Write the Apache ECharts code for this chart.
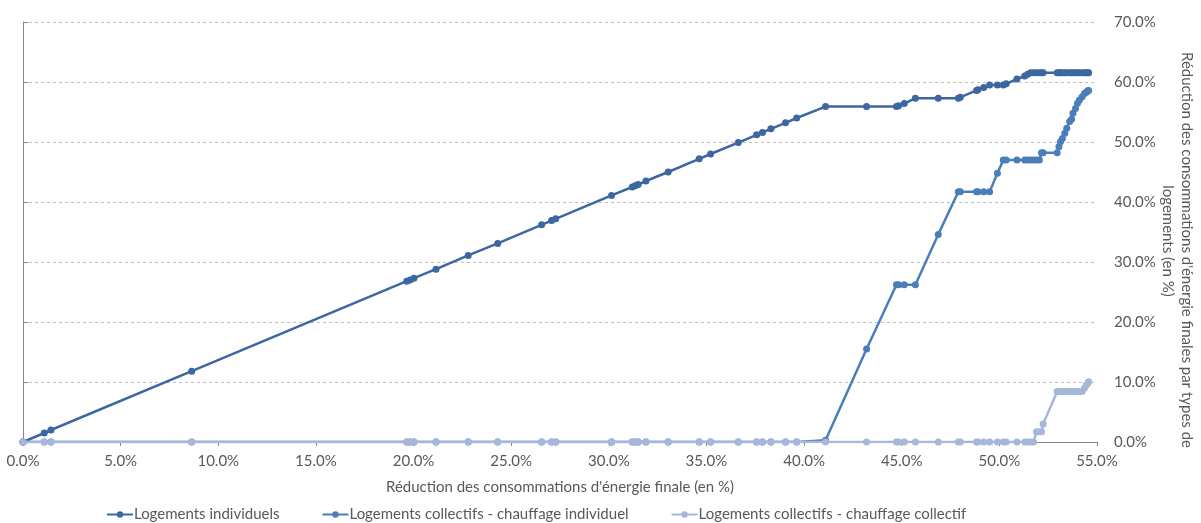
<!DOCTYPE html>
<html>
<head>
<meta charset="utf-8">
<script src="https://cdn.jsdelivr.net/npm/echarts@6/dist/echarts.min.js"></script>
<style>
html,body{margin:0;padding:0;background:#fff;}
#chart{width:1201px;height:523px;}
</style>
</head>
<body>
<div id="chart"></div>
<script>
// Shared x values: total reduction of final energy consumption (%)
const xValues = [0, 1.09, 1.43, 8.64, 19.65, 19.82, 20.02, 21.15, 22.8, 24.31, 26.56, 27.07, 27.28,
  30.14, 31.2, 31.35, 31.5, 31.9, 33.04, 34.63, 35.21, 36.63, 37.57, 37.87, 38.3, 39.05, 39.62,
  41.1, 43.2, 44.73, 44.84, 45.13, 45.7, 46.87, 47.9, 48.0, 48.83, 48.9, 49.2, 49.5, 49.9, 50.2,
  50.35, 50.9, 51.3, 51.45, 51.6, 51.75, 51.9, 52.05, 52.16, 52.24, 52.96, 53.05, 53.13, 53.23,
  53.35, 53.45, 53.6, 53.7, 53.77, 53.9, 54.0, 54.1, 54.24, 54.36, 54.45, 54.53, 54.57];

const indiv = [0, 1.5, 2.0, 11.8, 26.8, 27.0, 27.3, 28.8, 31.1, 33.1, 36.2, 36.9, 37.2,
  41.1, 42.5, 42.7, 42.9, 43.5, 45.0, 47.2, 48.0, 49.9, 51.2, 51.6, 52.2, 53.2, 54.0,
  55.9, 55.9, 55.9, 56.05, 56.4, 57.3, 57.3, 57.3, 57.45, 58.6, 58.7, 59.1, 59.5, 59.5, 59.5,
  59.7, 60.5, 61.0, 61.3, 61.55, 61.55, 61.55, 61.55, 61.55, 61.55, 61.55, 61.55, 61.55, 61.55,
  61.55, 61.55, 61.55, 61.55, 61.55, 61.55, 61.55, 61.55, 61.55, 61.55, 61.55, 61.55, 61.55];

const collIndiv = [0, 0, 0, 0, 0, 0, 0, 0, 0, 0, 0, 0, 0,
  0, 0, 0, 0, 0, 0, 0, 0, 0, 0, 0, 0, 0, 0,
  0.3, 15.5, 26.2, 26.2, 26.2, 26.2, 34.6, 41.7, 41.7, 41.7, 41.7, 41.7, 41.7, 44.8, 47.0,
  47.0, 47.0, 47.0, 47.0, 47.0, 47.0, 47.0, 47.0, 48.2, 48.2, 48.2, 49.2, 50.05, 50.6,
  51.45, 52.3, 53.4, 53.8, 54.8, 55.6, 56.45, 57.0, 57.55, 58.1, 58.3, 58.55, 58.6];

const collColl = [0, 0, 0, 0, 0, 0, 0, 0, 0, 0, 0, 0, 0,
  0, 0, 0, 0, 0, 0, 0, 0, 0, 0, 0, 0, 0, 0,
  0, 0, 0, 0, 0, 0, 0, 0, 0, 0, 0, 0, 0, 0, 0,
  0, 0, 0, 0, 0, 0, 1.7, 1.7, 1.7, 3.0, 8.4, 8.4, 8.4, 8.4,
  8.4, 8.4, 8.4, 8.4, 8.4, 8.4, 8.4, 8.4, 8.4, 8.95, 9.5, 9.8, 10.05];

const seriesNames = ['Logements individuels', 'Logements collectifs - chauffage individuel', 'Logements collectifs - chauffage collectif'];
const seriesColors = ['#3C67A0', '#4A7EBB', '#A6B8D8'];
const xAxisTitle = "Réduction des consommations d'énergie finale (en %)";
const yAxisTitleLine1 = "Réduction des consommations d'énergie finales par types de";
const yAxisTitleLine2 = "logements (en %)";

const pairs = ys => xValues.map((x, i) => [x, ys[i]]);
const font = 'Lato, "Open Sans", sans-serif';
const fs = 15;

const chart = echarts.init(document.getElementById('chart'), null, {renderer: 'canvas'});
chart.setOption({
  animation: false,
  textStyle: {fontFamily: font},
  grid: {left: 23, right: 104, top: 22, bottom: 81, containLabel: false, outerBoundsMode: 'none'},
  legend: {
    top: 507,
    left: 106,
    padding: 0,
    itemGap: 42,
    itemWidth: 26,
    itemHeight: 8,
    textStyle: {color: '#595959', fontSize: fs, fontFamily: font, padding: [0, 0, 0, -4]},
    data: seriesNames
  },
  xAxis: {
    type: 'value',
    min: 0, max: 55, interval: 5,
    name: xAxisTitle,
    nameLocation: 'middle',
    nameGap: 38,
    nameMoveOverlap: false,
    nameTextStyle: {color: '#595959', fontSize: fs, fontFamily: font},
    axisLine: {show: true, lineStyle: {color: '#868686', width: 1}},
    axisTick: {show: true, length: 4, lineStyle: {color: '#868686'}},
    axisLabel: {color: '#595959', fontSize: fs, margin: 12, formatter: v => v.toFixed(1) + '%'},
    splitLine: {show: false}
  },
  yAxis: {
    type: 'value',
    position: 'right',
    min: 0, max: 70, interval: 10,
    name: '{a|' + yAxisTitleLine1 + '}\n{b|' + yAxisTitleLine2 + '}',
    nameLocation: 'middle',
    nameRotate: -90,
    nameGap: 61,
    nameMoveOverlap: false,
    nameTextStyle: {
      color: '#595959', fontSize: fs, fontFamily: font, lineHeight: 19,
      rich: {
        a: {color: '#595959', fontSize: fs, fontFamily: font, lineHeight: 19, padding: [0, 0, 0, 36]},
        b: {color: '#595959', fontSize: fs, fontFamily: font, lineHeight: 19, padding: [0, 0, 0, 18]}
      }
    },
    axisLine: {show: true, lineStyle: {color: '#868686', width: 1}},
    axisTick: {show: true, length: 5, lineStyle: {color: '#868686'}},
    axisLabel: {color: '#595959', fontSize: fs, margin: 17, formatter: v => v.toFixed(1) + '%'},
    splitLine: {show: true, lineStyle: {color: '#BFBFBF', type: [3, 3], width: 1}}
  },
  series: [indiv, collIndiv, collColl].map((ys, i) => ({
    name: seriesNames[i],
    type: 'line',
    data: pairs(ys),
    symbol: 'circle',
    symbolSize: 7,
    showSymbol: true,
    showAllSymbol: true,
    color: seriesColors[i],
    lineStyle: {width: 2.5, color: seriesColors[i]},
    itemStyle: {color: seriesColors[i]},
    z: 2 + i
  }))
});
</script>
</body>
</html>
